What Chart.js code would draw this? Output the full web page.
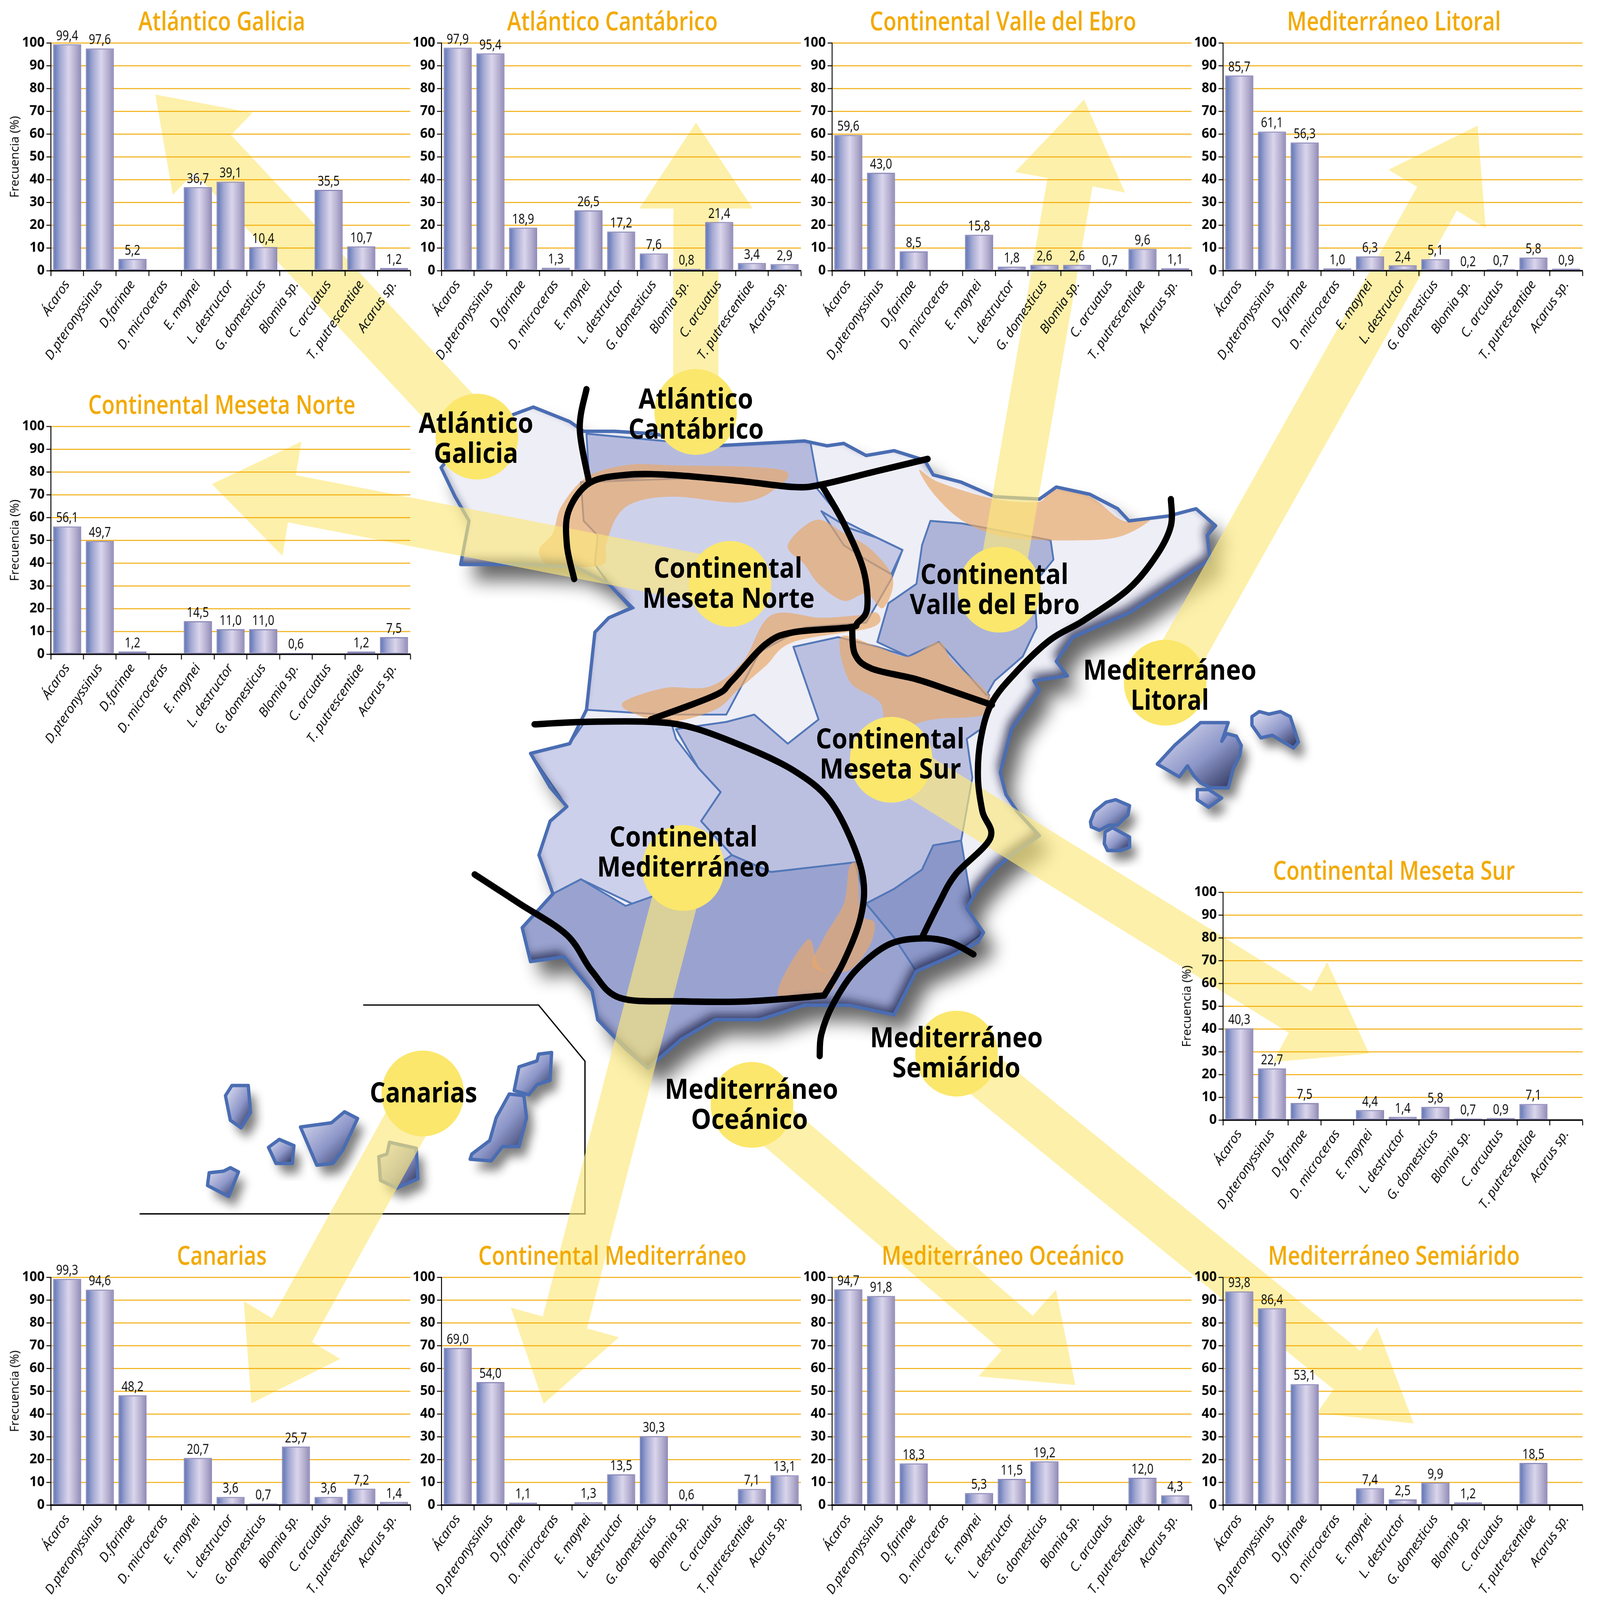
<!DOCTYPE html>
<html lang="es">
<head>
<meta charset="utf-8">
<title>Frecuencia de ácaros por región climática</title>
<script src="https://cdn.jsdelivr.net/npm/chart.js@4/dist/chart.umd.min.js"></script>
<style>
html,body{margin:0;padding:0;background:#fff;width:100%;height:100%;overflow:hidden}
#stage{position:absolute;left:0;top:0;width:4379px;height:4214px;transform-origin:0 0;background:#fff}
#map{position:absolute;left:0;top:0}
#stage canvas{position:absolute;z-index:2}
</style>
</head>
<body>
<div id="stage">
<svg id="map" width="4379" height="4214" viewBox="0 0 4379 4214" xmlns="http://www.w3.org/2000/svg"></svg>
</div>
<script>
// ---------- DATA ----------
const categoriesShown = ['Ácaros','D.pteronyssinus','D.farinae','D. microceras','E. maynei','L. destructor','G. domesticus','Blomia sp.','C. arcuatus','T. putrescentiae','Acarus sp.'];
const yTicks = [0,10,20,30,40,50,60,70,80,90,100];
const atlanticoGalicia      = [99.4,97.6,5.2,null,36.7,39.1,10.4,null,35.5,10.7,1.2];
const atlanticoCantabrico   = [97.9,95.4,18.9,1.3,26.5,17.2,7.6,0.8,21.4,3.4,2.9];
const continentalEbro       = [59.6,43.0,8.5,null,15.8,1.8,2.6,2.6,0.7,9.6,1.1];
const mediterraneoLitoral   = [85.7,61.1,56.3,1.0,6.3,2.4,5.1,0.2,0.7,5.8,0.9];
const continentalNorte      = [56.1,49.7,1.2,null,14.5,11.0,11.0,0.6,null,1.2,7.5];
const continentalSur        = [40.3,22.7,7.5,null,4.4,1.4,5.8,0.7,0.9,7.1,null];
const canarias              = [99.3,94.6,48.2,null,20.7,3.6,0.7,25.7,3.6,7.2,1.4];
const continentalMed        = [69.0,54.0,1.1,null,1.3,13.5,30.3,0.6,null,7.1,13.1];
const mediterraneoOceanico  = [94.7,91.8,18.3,null,5.3,11.5,19.2,null,null,12.0,4.3];
const mediterraneoSemiarido = [93.8,86.4,53.1,null,7.4,2.5,9.9,1.2,null,18.5,null];
const yTitle = 'Frecuencia (%)';

// ---------- LAYOUT ----------
const stage=document.getElementById('stage');
// the window may be smaller than the 4379x4214 design: fit the whole design into it
stage.style.transform='scale('+(window.innerWidth/4379)+','+(window.innerHeight/4214)+')';
const COL = [138.5,1208,2277,3347], ROW = [113,1122.5,2350,3364];
const panels = [
 ['Atlántico Galicia',atlanticoGalicia,COL[0],ROW[0],true],
 ['Atlántico Cantábrico',atlanticoCantabrico,COL[1],ROW[0],false],
 ['Continental Valle del Ebro',continentalEbro,COL[2],ROW[0],false],
 ['Mediterráneo Litoral',mediterraneoLitoral,COL[3],ROW[0],false],
 ['Continental Meseta Norte',continentalNorte,COL[0],ROW[1],true],
 ['Continental Meseta Sur',continentalSur,COL[3],ROW[2],true],
 ['Canarias',canarias,COL[0],ROW[3],true],
 ['Continental Mediterráneo',continentalMed,COL[1],ROW[3],false],
 ['Mediterráneo Oceánico',mediterraneoOceanico,COL[2],ROW[3],false],
 ['Mediterráneo Semiárido',mediterraneoSemiarido,COL[3],ROW[3],false]
];
const AMBER='#f2a900';

// ---------- BACKDROP (map, arrows, labels) ----------
const svg=document.getElementById('map');
const NS='http://www.w3.org/2000/svg';
function el(name,attrs,parent){const e=document.createElementNS(NS,name);for(const k in attrs)e.setAttribute(k,attrs[k]);(parent||svg).appendChild(e);return e;}
const Z=p=>[1100+p[0]*1.5306,900+p[1]*1.2755];          // peninsula sketch space
const B=p=>[3000+p[0]/2.24,1700+p[1]/2.24];             // Balearic sketch space
const C=p=>[300+p[0]/1.12,2600+p[1]/2.24];              // Canary sketch space
const poly=(pts,f)=>'M'+pts.map(f||(p=>p)).map(p=>p[0].toFixed(1)+' '+p[1].toFixed(1)).join('L')+'Z';
function curve(P,closed){ // Catmull-Rom through points
  const n=P.length,at=i=>closed?P[(i+n)%n]:P[Math.min(Math.max(i,0),n-1)];
  let d='M'+P[0][0]+' '+P[0][1];
  for(let i=0;i<(closed?n:n-1);i++){
    const a=at(i-1),b=at(i),c=at(i+1),e=at(i+2);
    d+='C'+(b[0]+(c[0]-a[0])/6)+' '+(b[1]+(c[1]-a[1])/6)+' '+(c[0]-(e[0]-b[0])/6)+' '+(c[1]-(e[1]-b[1])/6)+' '+c[0]+' '+c[1];
  }
  return d+(closed?'Z':'');
}
const defs=el('defs',{});
function blur(id,s){const f=el('filter',{id,x:'-30%',y:'-30%',width:'160%',height:'160%'},defs);el('feGaussianBlur',{stdDeviation:s},f);}
blur('b22',24);blur('b14',12);blur('b12',13);
const ig=el('linearGradient',{id:'isl',x1:'0',y1:'0',x2:'1',y2:'1'},defs);
el('stop',{offset:'0.1','stop-color':'#d4d5ec'},ig);el('stop',{offset:'0.55','stop-color':'#8c96c8'},ig);el('stop',{offset:'0.95','stop-color':'#2f365f'},ig);

const outline=[[70,260],[130,180],[235,135],[300,165],[325,185],[380,185],[450,190],[560,215],[640,210],[720,205],[760,215],[790,210],[830,235],[880,225],[935,245],[950,275],[1000,290],[1060,320],[1140,325],[1170,300],[1230,315],[1280,345],[1300,370],[1370,360],[1420,345],[1455,380],[1440,400],[1445,450],[1380,500],[1300,560],[1200,610],[1170,660],[1190,690],[1130,700],[1140,720],[1090,800],[1070,890],[1080,935],[1100,970],[1140,1020],[1090,1060],[1060,1090],[1030,1130],[1010,1170],[1040,1220],[1030,1240],[980,1270],[920,1300],[880,1390],[800,1370],[720,1370],[640,1400],[560,1400],[500,1440],[440,1500],[400,1460],[350,1400],[340,1340],[290,1270],[230,1280],[215,1210],[270,1140],[245,1060],[265,990],[295,960],[265,920],[230,850],[300,830],[330,760],[345,600],[370,570],[410,550],[370,500],[310,465],[220,460],[105,460],[120,370],[95,320]];
const outlineD=poly(outline,Z);
el('clipPath',{id:'pen'},defs).appendChild(el('path',{d:outlineD},defs));
el('path',{d:outlineD,fill:'#000',opacity:.6,filter:'url(#b22)',transform:'translate(32,42)'});
const mapG=el('g',{'clip-path':'url(#pen)'});
el('path',{d:outlineD,fill:'#eeeef6'},mapG);
const regions=[
 ['#b6bbde',[[330,190],[560,215],[730,205],[745,300],[600,285],[480,275],[335,290]]],
 ['#ced1ea',[[320,290],[560,280],[740,300],[790,370],[850,405],[895,430],[875,490],[830,580],[720,590],[640,640],[580,770],[540,770],[470,770],[330,760],[345,600],[370,570],[415,550],[370,500],[345,460],[350,400],[325,370]]],
 ['#cdd0ea',[[330,780],[480,780],[490,820],[530,880],[570,930],[535,990],[590,1060],[510,1120],[420,1165],[320,1110],[270,1140],[245,1060],[265,990],[295,960],[230,850],[300,830]]],
 ['#bcc0e0',[[490,800],[580,785],[630,770],[690,830],[745,780],[700,630],[780,610],[850,630],[905,650],[960,620],[1050,730],[1035,800],[1010,820],[1020,900],[1000,1030],[950,1040],[930,1090],[880,1130],[830,1160],[810,1075],[740,1085],[660,1095],[590,1060],[535,990],[570,930],[530,880]]],
 ['#9aa3cf',[[215,1210],[270,1140],[320,1110],[400,1165],[510,1120],[590,1060],[660,1095],[810,1075],[830,1160],[880,1230],[920,1300],[880,1390],[800,1370],[640,1400],[500,1440],[440,1500],[350,1400],[340,1340],[290,1270],[230,1280]]],
 ['#8b97c8',[[830,1160],[880,1130],[930,1090],[950,1040],[1000,1030],[1010,1100],[1020,1170],[1040,1220],[980,1270],[920,1300],[880,1230]]],
 ['#aeb4d8',[[945,370],[1000,375],[1160,410],[1165,450],[1130,500],[1135,590],[1110,650],[1060,700],[1045,730],[960,620],[905,650],[850,620],[870,540],[920,500],[930,420]]],
 ['#c5c9e6',[[750,350],[800,385],[850,405],[895,430],[875,480],[830,450],[790,420]]]
];
regions.forEach(r=>el('path',{d:poly(r[1],Z),fill:r[0],stroke:'#5378b9','stroke-width':5,'stroke-linejoin':'round'},mapG));
const orange=[
 [[330,280],[400,255],[480,255],[680,265],[660,310],[600,332],[490,320],[420,330],[385,360],[365,420],[360,460],[300,465],[260,460],[245,430],[270,395],[285,340]],
 [[690,420],[740,368],[790,395],[840,430],[878,490],[860,550],[830,520],[790,535],[745,500],[720,460]],
 [[660,565],[750,570],[815,565],[850,560],[840,590],[700,620],[650,670],[600,720],[560,760],[480,785],[420,770],[395,745],[470,715],[550,712],[610,660]],
 [[785,610],[850,630],[905,650],[960,620],[985,660],[1050,730],[1040,770],[950,780],[870,800],[855,745],[800,700]],
 [[925,265],[960,290],[1060,325],[1140,330],[1160,305],[1230,320],[1290,370],[1340,365],[1290,400],[1220,410],[1090,405],[1010,375],[955,320]],
 [[800,1085],[815,1085],[820,1180],[845,1200],[835,1250],[795,1300],[735,1290],[755,1230],[790,1160]],
 [[725,1235],[745,1290],[775,1310],[760,1345],[672,1350]]
];
orange.forEach(o=>el('path',{d:curve(o.map(Z),true),fill:'#e9a868','fill-opacity':.68},mapG));
// inner bevel shadow
el('path',{d:'M0 0H4379V4214H0Z '+outlineD,'fill-rule':'evenodd',fill:'#1c2148',opacity:.75,filter:'url(#b14)',transform:'translate(-10,-16)'},mapG);
el('path',{d:outlineD,fill:'none',stroke:'#4a6db3','stroke-width':9,'stroke-linejoin':'round'});

const islands=[
 [B,[[375,700],[480,590],[640,455],[810,455],[790,510],[770,565],[800,520],[860,535],[890,590],[880,650],[840,730],[810,840],[700,840],[640,810],[600,770],[560,710],[510,775]]],
 [B,[[620,850],[690,850],[770,900],[690,955],[620,910]]],
 [B,[[955,420],[1000,390],[1060,405],[1130,390],[1190,420],[1240,570],[1210,605],[1080,530],[1010,545],[955,470]]],
 [B,[[-35,1040],[-10,980],[60,925],[120,910],[205,945],[195,1000],[130,1060],[80,1060],[20,1090],[-30,1070]]],
 [B,[[55,1100],[100,1075],[205,1130],[205,1190],[150,1210],[70,1210],[50,1170]]],
 [C,[[375,580],[425,580],[432,740],[403,830],[370,785],[355,640]]],
 [C,[[305,1095],[350,1085],[370,1065],[395,1090],[365,1235],[300,1170]]],
 [C,[[520,898],[565,935],[560,1040],[510,1040],[487,945]]],
 [C,[[585,825],[680,800],[720,735],[760,775],[715,960],[685,1040],[635,1050]]],
 [C,[[858,915],[940,950],[945,1130],[880,1185],[830,1140],[825,1000],[850,985]]],
 [C,[[1225,630],[1270,640],[1278,770],[1255,940],[1205,940],[1170,1025],[1105,1015],[1110,985],[1165,905],[1185,770]]],
 [C,[[1255,470],[1310,435],[1315,395],[1355,385],[1350,550],[1310,575],[1285,635],[1240,610]]]
];
islands.forEach(i=>{const d=poly(i[1],i[0]);el('path',{d,fill:'#000',opacity:.5,filter:'url(#b12)',transform:'translate(18,26)'});});
islands.forEach(i=>{const d=poly(i[1],i[0]);el('path',{d,fill:'url(#isl)',stroke:'#4a6db3','stroke-width':9,'stroke-linejoin':'round'});});
el('path',{d:'M994 2647H1474L1601 2795V3197H382',fill:'none',stroke:'#000','stroke-width':3.5});

// arrows: start point, tip, the two head corners, shaft width
const arrows=[
 [[1305,1150],[425,249],[691,297],[473,513],141],
 [[1904,1085],[1905,323],[1750,549],[2060,549],124],
 [[2735,1553],[2967,262],[2778,453],[3079,507],125],
 [[3189,1798],[4044,331],[3800,447],[4066,600],125],
 [[1998,1538],[580,1275],[825,1163],[773,1464],126],
 [[2439,2001],[3747,2775],[3632,2534],[3484,2797],125],
 [[1157,2880],[688,3696],[667,3427],[931,3579],126],
 [[1870,2286],[1488,3697],[1398,3444],[1694,3522],125],
 [[2058,2910],[2943,3648],[2890,3397],[2678,3625],125],
 [[2618,2772],[3869,3749],[3769,3495],[3604,3722],125]
];
const arrowG=el('g',{fill:'#fce87c','fill-opacity':.65});
arrows.forEach(a=>{
  const [s,t,c1,c2,w]=a,m=[(c1[0]+c2[0])/2,(c1[1]+c2[1])/2];
  const dx=m[0]-s[0],dy=m[1]-s[1],L=Math.hypot(dx,dy),nx=-dy/L*w/2,ny=dx/L*w/2;
  const u=[c1[0]-c2[0],c1[1]-c2[1]],uL=Math.hypot(u[0],u[1]),k=(w/2)/uL;
  const sign=(u[0]*nx+u[1]*ny)>0?1:-1;
  const i1=[m[0]+u[0]*k,m[1]+u[1]*k],i2=[m[0]-u[0]*k,m[1]-u[1]*k];
  el('path',{d:poly([t,c1,i1,[s[0]+sign*nx,s[1]+sign*ny],[s[0]-sign*nx,s[1]-sign*ny],i2,c2])},arrowG);
});
// yellow discs
[[1305,1150],[1904,1085],[1998,1538],[2735,1553],[3189,1798],[2439,2001],[1870,2286],[2618,2775],[2058,2910],[1157,2880]]
  .forEach(c=>el('circle',{cx:c[0],cy:c[1],r:113,fill:'#fbe76c'}));
// thick black climate boundaries
[[[330,98],[318,180],[335,292]],
 [[308,490],[295,420],[298,350],[335,292],[400,275],[480,275],[600,287],[700,300],[750,295],[850,267],[940,242]],
 [[750,295],[790,375],[825,470],[832,550],[815,580],[800,590],[700,600],[650,625],[590,700],[560,730],[445,780]],
 [[237,790],[330,785],[445,785],[520,797],[620,840],[700,885],[760,940],[800,1020],[825,1110],[820,1190],[790,1280],[755,1350]],
 [[805,590],[810,645],[840,675],[920,697],[980,720],[1055,750]],
 [[1375,325],[1375,380],[1350,440],[1300,510],[1220,575],[1160,615],[1100,680],[1055,745],[1035,820],[1030,900],[1038,970],[1052,1025],[990,1100],[960,1160],[930,1230]],
 [[1022,1265],[980,1240],[930,1232],[870,1245],[810,1300],[770,1370],[750,1430],[747,1475]],
 [[130,1100],[210,1160],[295,1225],[340,1300],[390,1355],[500,1362],[620,1362],[755,1350]]
].forEach(l=>el('path',{d:curve(l.map(Z),false),fill:'none',stroke:'#000','stroke-width':17,'stroke-linecap':'round','stroke-linejoin':'round'}));
// map labels: text, left, right (sketch x), baseline (page y)
const mapLabels=[
 ['Atlántico',30,235,1140],['Galicia',57,208,1219],
 ['Atlántico',423,628,1076],['Cantábrico',405,647,1155],
 ['Continental',450,716,1522],['Meseta Norte',430,738,1601],
 ['Continental',927,1192,1538],['Valle del Ebro',908,1212,1617],
 ['Mediterráneo',1218,1528,1790],['Litoral',1303,1443,1869],
 ['Continental',740,1006,1971],['Meseta Sur',747,1000,2050],
 ['Continental',371,636,2229],['Mediterráneo',349,658,2309],
 ['Mediterráneo',837,1146,2758],['Semiárido',877,1106,2837],
 ['Mediterráneo',470,780,2894],['Oceánico',517,726,2973],
 ['Canarias',-57.5,134.6,2903]
];
mapLabels.forEach(m=>{
  const x=Z([m[1],0])[0],w=(m[2]-m[1])*1.5306;
  const t=el('text',{x,y:m[3],textLength:w,lengthAdjust:'spacingAndGlyphs','font-family':'Open Sans','font-weight':700,'font-size':74,fill:'#000'});
  t.textContent=m[0];
});

// ---------- CHARTS ----------
const PL=130,PT=113,PW=984,PH=600,PR=82,XH=240;
const valueLabels={id:'valueLabels',afterDatasetsDraw(chart){
  const ctx=chart.ctx,ds=chart.data.datasets[0],meta=chart.getDatasetMeta(0);
  ctx.save();ctx.font='36px "Open Sans"';ctx.fillStyle='#000';ctx.textAlign='center';ctx.textBaseline='alphabetic';
  meta.data.forEach((bar,i)=>{const v=ds.data[i];if(v==null)return;
    ctx.save();ctx.translate(bar.x,bar.y-11);ctx.scale(.85,1);
    ctx.fillText(v.toFixed(1).replace('.',','),0,0);ctx.restore();});
  ctx.restore();
}};
const condensedTitle={id:'condensedTitle',afterDraw(chart,args,o){
  const ctx=chart.ctx;ctx.save();
  ctx.translate(chart.width/2,PT-33);ctx.scale(.86,1);
  ctx.font='600 68px "Open Sans"';ctx.fillStyle=AMBER;ctx.textAlign='center';ctx.textBaseline='alphabetic';
  ctx.fillText(o.text,0,0);ctx.restore();
}};
panels.forEach(p=>{
  const [title,values,x,y,showY]=p;
  const cv=document.createElement('canvas');
  cv.width=PL+PW+PR;cv.height=PT+PH+XH;
  cv.style.left=(x-PL)+'px';cv.style.top=(y-PT)+'px';
  stage.appendChild(cv);
  new Chart(cv,{
    type:'bar',
    plugins:[valueLabels,condensedTitle],
    data:{labels:categoriesShown,datasets:[{
      data:values,barPercentage:.86,categoryPercentage:1,borderWidth:3,borderColor:'#8c89b9',borderSkipped:false,
      backgroundColor(c){
        const s=c.chart.scales.x;
        if(!s||c.dataIndex==null)return '#b0b0d8';
        const cx=s.getPixelForValue(c.dataIndex),w=s.width/11*.86;
        if(!isFinite(cx)||!isFinite(w))return '#b0b0d8';
        const g=c.chart.ctx.createLinearGradient(cx-w/2,0,cx+w/2,0);
        g.addColorStop(0,'#5872b6');g.addColorStop(.25,'#a3a8d2');g.addColorStop(.55,'#dbd6ec');g.addColorStop(.8,'#b5afd0');g.addColorStop(1,'#8f89b5');
        return g;
      }
    }]},
    options:{
      responsive:false,animation:false,devicePixelRatio:1,
      layout:{padding:{left:0,right:PR,top:PT,bottom:0}},
      plugins:{
        legend:{display:false},tooltip:{enabled:false},title:{display:false},
        condensedTitle:{text:title}
      },
      scales:{
        x:{type:'category',offset:true,
          grid:{display:true,offset:true,drawOnChartArea:false,drawTicks:true,tickLength:14,tickColor:'#000',tickWidth:2.5},
          border:{display:true,color:'#000',width:4},
          ticks:{autoSkip:false,minRotation:55,maxRotation:55,padding:4,color:'#000',font:{family:'"Open Sans"',style:'italic',size:35}},
          afterFit(s){s.height=XH;}
        },
        y:{type:'linear',min:0,max:100,
          afterBuildTicks(s){s.ticks=yTicks.map(v=>({value:v}));},
          grid:{color:AMBER,lineWidth:2.5,tickColor:'#000',tickLength:12,tickWidth:2.5},
          border:{display:true,color:'#000',width:2.5},
          ticks:{padding:5,color:'#000',font:{family:'"Open Sans"',weight:'bold',size:36}},
          title:{display:showY,text:yTitle,color:'#000',font:{family:'"Open Sans"',size:32,lineHeight:1.2},padding:{top:14,bottom:0}},
          afterFit(s){s.width=PL;}
        }
      }
    }
  });
});
</script>
</body>
</html>
